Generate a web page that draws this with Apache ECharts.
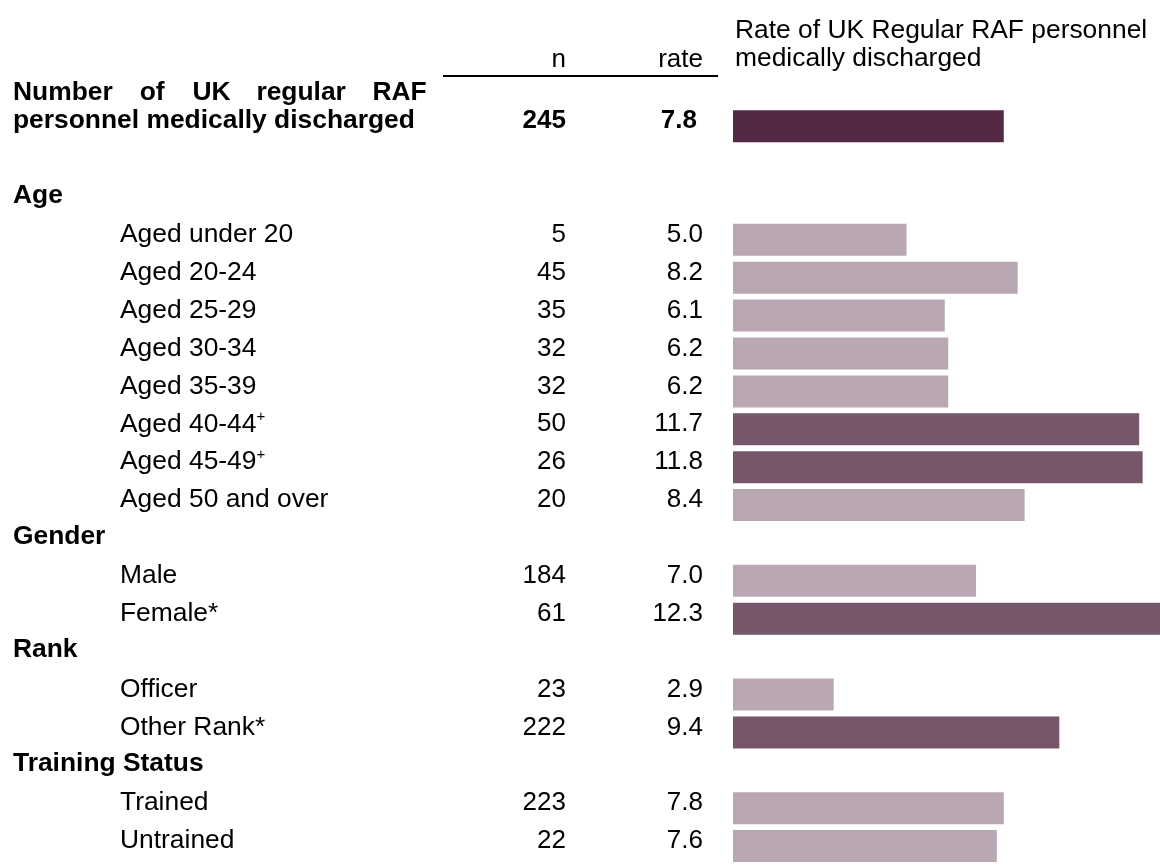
<!DOCTYPE html>
<html>
<head>
<meta charset="utf-8">
<script src="https://cdn.jsdelivr.net/npm/echarts@6/dist/echarts.min.js"></script>
<style>
  html, body { margin: 0; padding: 0; background: #fff; }
  #chart { width: 1160px; height: 865px; }
</style>
</head>
<body>
<div id="chart"></div>
<script>
// Row labels, top to bottom. '⁺' marks a superscript plus.
const rowLabels = [
  'Number of UK regular RAF personnel medically discharged',
  '',
  'Age',
  'Aged under 20', 'Aged 20-24', 'Aged 25-29', 'Aged 30-34', 'Aged 35-39',
  'Aged 40-44⁺', 'Aged 45-49⁺', 'Aged 50 and over',
  'Gender',
  'Male', 'Female*',
  'Rank',
  'Officer', 'Other Rank*',
  'Training Status',
  'Trained', 'Untrained'
];
// Kind of each row: total, blank spacer, group heading, or item
const rowKinds = [
  'total', 'blank', 'group',
  'item', 'item', 'item', 'item', 'item', 'item', 'item', 'item',
  'group', 'item', 'item',
  'group', 'item', 'item',
  'group', 'item', 'item'
];
// Number medically discharged
const counts = [245, null, null, 5, 45, 35, 32, 32, 50, 26, 20, null, 184, 61, null, 23, 222, null, 223, 22];
// Rate per 1,000 personnel
const rates = [7.8, null, null, 5.0, 8.2, 6.1, 6.2, 6.2, 11.7, 11.8, 8.4, null, 7.0, 12.3, null, 2.9, 9.4, null, 7.8, 7.6];
// Groups whose rate is significantly higher
const higher = [false, false, false, false, false, false, false, false, true, true, false, false, false, true, false, false, true, false, false, false];

const FONT = '"Liberation Sans", Arial, Helvetica, sans-serif';
const FS_TEXT = 26.4;
const FS_NUM = 26;
const COLOR_TOTAL = '#542945';
const COLOR_HIGH = '#76566b';
const COLOR_BASE = '#b9a8b4';

const txt = (extra) => Object.assign({ fontFamily: FONT, fontSize: FS_TEXT, color: '#000', lineHeight: 30 }, extra || {});
const num = (extra) => Object.assign({ fontFamily: FONT, fontSize: FS_NUM, color: '#000', lineHeight: 30 }, extra || {});
const boldWord = (w) => txt({ fontWeight: 'bold', lineHeight: 28, width: w });

const chart = echarts.init(document.getElementById('chart'), null, { renderer: 'canvas' });

// The first line of the total row's label is spread across the column width
function totalLabel() {
  return '{w1|Number}{w2|of}{w3|UK}{w4|regular}{tb|RAF}\n' +
         '{tb|personnel medically discharged}\n{tb| }';
}

function nameLabel(value, idx) {
  const kind = rowKinds[idx];
  if (kind === 'blank') return '';
  if (kind === 'total') return totalLabel();
  if (kind === 'group') return '{grp|' + value + '}';
  if (value.indexOf('⁺') >= 0) {
    return '{item|' + value.replace('⁺', '') + '}{sup|+}';
  }
  return '{item|' + value + '}';
}

function countLabel(value, idx) {
  const v = counts[idx];
  if (v == null) return '';
  return rowKinds[idx] === 'total' ? '{b|' + v + '}' : '{n|' + v + '}';
}

function rateLabel(value, idx) {
  const v = rates[idx];
  if (v == null) return '';
  return rowKinds[idx] === 'total' ? '{b|' + v.toFixed(1) + '}' : '{n|' + v.toFixed(1) + '}';
}

const hiddenAxisParts = {
  axisLine: { show: false },
  axisTick: { show: false },
  splitLine: { show: false }
};

const option = {
  animation: false,
  backgroundColor: '#ffffff',
  grid: { left: 733, top: 107.2, width: 429, height: 768.8, containLabel: false },
  xAxis: {
    type: 'value', min: 0, max: 12.3, show: false
  },
  yAxis: [
    Object.assign({
      type: 'category', inverse: true, data: rowLabels, position: 'left',
      axisLabel: {
        interval: 0, align: 'left', margin: 720, padding: [0, 0, 10, 0],
        formatter: nameLabel,
        rich: {
          tb: txt({ fontWeight: 'bold', lineHeight: 28 }),
          w1: boldWord(126.7),
          w2: boldWord(52.7),
          w3: boldWord(64),
          w4: boldWord(116.1),
          grp: txt({ fontWeight: 'bold', padding: [0, 0, 3, 0] }),
          item: txt({ padding: [0, 0, 0, 107] }),
          sup: txt({ fontSize: 15, lineHeight: 16, verticalAlign: 'top' })
        }
      }
    }, hiddenAxisParts),
    Object.assign({
      type: 'category', inverse: true, data: rowLabels, position: 'left',
      axisLabel: {
        interval: 0, align: 'right', margin: 167, padding: [0, 0, 10, 0],
        formatter: countLabel,
        rich: {
          b: num({ fontWeight: 'bold' }),
          n: num()
        }
      }
    }, hiddenAxisParts),
    Object.assign({
      type: 'category', inverse: true, data: rowLabels, position: 'left',
      axisLabel: {
        interval: 0, align: 'right', margin: 30, padding: [0, 0, 10, 0],
        formatter: rateLabel,
        rich: {
          b: num({ fontWeight: 'bold', padding: [0, 6, 0, 0] }),
          n: num()
        }
      }
    }, hiddenAxisParts)
  ],
  series: [{
    type: 'bar',
    yAxisIndex: 0,
    barWidth: 32,
    silent: true,
    data: rates.map((v, i) => ({
      value: v,
      itemStyle: {
        color: rowKinds[i] === 'total' ? COLOR_TOTAL : (higher[i] ? COLOR_HIGH : COLOR_BASE)
      }
    }))
  }],
  graphic: [
    {
      type: 'text', left: 735, top: 17,
      style: {
        text: 'Rate of UK Regular RAF personnel\nmedically discharged',
        fontFamily: FONT, fontSize: FS_TEXT, lineHeight: 27.5, fill: '#000'
      }
    },
    {
      type: 'text', x: 566, y: 59.5,
      style: { text: 'n', fontFamily: FONT, fontSize: FS_NUM, fill: '#000', align: 'right', verticalAlign: 'middle' }
    },
    {
      type: 'text', x: 703, y: 59.5,
      style: { text: 'rate', fontFamily: FONT, fontSize: FS_NUM, fill: '#000', align: 'right', verticalAlign: 'middle' }
    },
    {
      type: 'line',
      shape: { x1: 443, y1: 76, x2: 718, y2: 76 },
      style: { stroke: '#000', lineWidth: 2 }
    }
  ]
};

chart.setOption(option);
</script>
</body>
</html>
